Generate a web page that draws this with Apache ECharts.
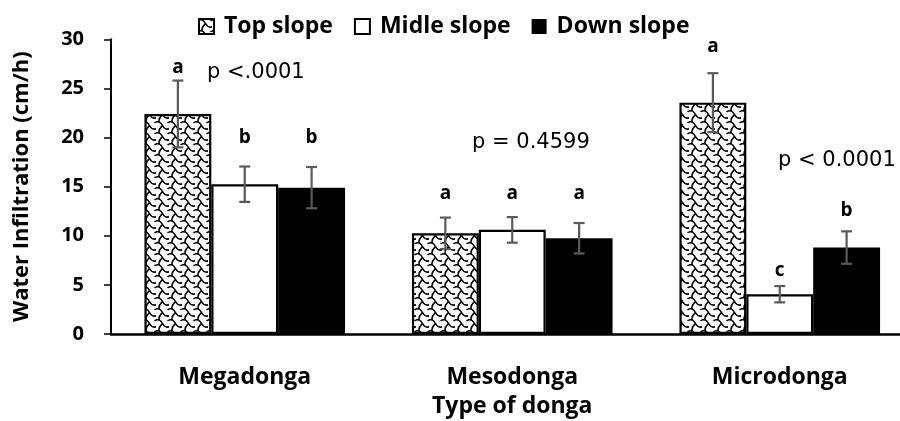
<!DOCTYPE html>
<html>
<head>
<meta charset="utf-8">
<script src="https://cdn.jsdelivr.net/npm/echarts@6/dist/echarts.min.js"></script>
<style>
html,body{margin:0;padding:0;background:#fff;}
#chart{width:900px;height:421px;}
</style>
</head>
<body>
<div id="chart"></div>
<script>
const categories = ['Megadonga', 'Mesodonga', 'Microdonga'];
const seriesNames = ['Top slope', 'Midle slope', 'Down slope'];
const topMean = [22.4, 10.25, 23.55];
const topErr = [3.4, 1.6, 3.0];
const midMean = [15.25, 10.6, 4.05];
const midErr = [1.8, 1.3, 0.83];
const downMean = [14.9, 9.75, 8.8];
const downErr = [2.1, 1.55, 1.65];
const topLetters = ['a', 'a', 'a'];
const topLetterY = [27.1, 14.3, 29.3];
const midLetters = ['b', 'a', 'c'];
const midLetterY = [20.0, 14.3, 6.5];
const downLetters = ['b', 'a', 'b'];
const downLetterY = [20.0, 14.3, 12.6];
const yMin = 0, yMax = 30, yInterval = 5;
const pValueTexts = ['p <.0001', 'p = 0.4599', 'p < 0.0001'];

const means = [topMean, midMean, downMean];
const errs = [topErr, midErr, downErr];
const letters = [topLetters, midLetters, downLetters];
const letterYs = [topLetterY, midLetterY, downLetterY];

function makePattern() {
  const c = document.createElement('canvas');
  c.width = 13; c.height = 11;
  const g = c.getContext('2d');
  g.fillStyle = '#fff';
  g.fillRect(0, 0, 13, 11);
  g.strokeStyle = '#000';
  g.lineWidth = 1.5;
  g.lineCap = 'round';
  g.beginPath();
  g.moveTo(-1, 1.5);
  g.bezierCurveTo(2.5, -0.5, 5, 1.5, 6.5, 4.5);
  g.bezierCurveTo(8, 7.5, 10.5, 9, 14, 7.5);
  g.moveTo(6.5, 4.5);
  g.bezierCurveTo(4.5, 6.5, 2.5, 8, 3, 11.5);
  g.moveTo(3, -0.5);
  g.lineTo(3.2, 0.3);
  g.moveTo(12, 1.5);
  g.bezierCurveTo(12.5, 1.3, 13, 1.2, 14, 1.5);
  g.stroke();
  return c;
}
const pattern = { image: makePattern(), repeat: 'repeat' };
const barColors = [pattern, '#ffffff', '#000000'];

const FONT = '"Open Sans", "Noto Sans", sans-serif';

const barSeries = seriesNames.map((name, si) => ({
  name: name,
  type: 'bar',
  data: means[si],
  barGap: '0%',
  barCategoryGap: '25%',
  itemStyle: {
    color: barColors[si],
    borderColor: '#000',
    borderWidth: si === 2 ? 0 : 2.2
  },
  emphasis: { disabled: true },
  z: 2
}));

const errSeries = seriesNames.map((name, si) => ({
  type: 'custom',
  name: name + ' err',
  coordinateSystem: 'cartesian2d',
  silent: true,
  z: 5,
  encode: { x: 0, y: 1 },
  data: categories.map((c, i) => [i, means[si][i], errs[si][i], letterYs[si][i]]),
  renderItem: function (params, api) {
    const i = api.value(0);
    const m = api.value(1);
    const e = api.value(2);
    const ly = api.value(3);
    const band = api.size([1, 0])[0];
    const bw = band * 0.75 / 3;
    const off = (si - 1) * bw;
    const pTop = api.coord([i, m + e]);
    const pBot = api.coord([i, m - e]);
    const pL = api.coord([i, ly]);
    const x = pTop[0] + off;
    const cap = 5.5;
    const st = { stroke: '#5a5a5a', lineWidth: 2.2 };
    return {
      type: 'group',
      children: [
        { type: 'line', shape: { x1: x, y1: pTop[1], x2: x, y2: pBot[1] }, style: st },
        { type: 'line', shape: { x1: x - cap, y1: pTop[1], x2: x + cap, y2: pTop[1] }, style: st },
        { type: 'line', shape: { x1: x - cap, y1: pBot[1], x2: x + cap, y2: pBot[1] }, style: st },
        { type: 'text', x: x, y: pL[1], style: {
            text: letters[si][params.dataIndex],
            fill: '#000',
            font: 'bold 19px ' + FONT,
            textAlign: 'center',
            textVerticalAlign: 'middle'
          } }
      ]
    };
  }
}));

const chart = echarts.init(document.getElementById('chart'), null, { renderer: 'canvas' });
chart.setOption({
  animation: false,
  backgroundColor: '#fff',
  legend: {
    data: seriesNames,
    left: 193,
    top: 10,
    itemWidth: 15,
    itemHeight: 15,
    itemGap: 21,
    icon: 'rect',
    selectedMode: false,
    textStyle: {
      fontFamily: FONT,
      fontWeight: 'bold',
      fontSize: 23,
      color: '#000',
      padding: [0, 0, 0, 5]
    }
  },
  grid: {
    left: 111,
    top: 39.3,
    width: 802.5,
    height: 294.7,
    containLabel: false,
    outerBoundsMode: 'none'
  },
  xAxis: {
    type: 'category',
    data: categories,
    name: 'Type of donga',
    nameLocation: 'middle',
    nameGap: 61,
    nameTextStyle: { fontFamily: FONT, fontWeight: 'bold', fontSize: 23, color: '#000' },
    axisLine: { lineStyle: { color: '#000', width: 2.5 } },
    axisTick: { show: false },
    axisLabel: { margin: 32, fontFamily: FONT, fontWeight: 'bold', fontSize: 23, color: '#000', interval: 0 },
    splitLine: { show: false }
  },
  yAxis: {
    type: 'value',
    min: yMin,
    max: yMax,
    interval: yInterval,
    name: 'Water Infiltration (cm/h)',
    nameLocation: 'middle',
    nameGap: 78,
    nameTextStyle: { fontFamily: FONT, fontWeight: 'bold', fontSize: 22, color: '#000' },
    axisLine: { show: true, lineStyle: { color: '#000', width: 2 } },
    axisTick: { show: true, length: 7, lineStyle: { color: '#000', width: 1.5 } },
    axisLabel: { margin: 27, fontFamily: FONT, fontWeight: 'bold', fontSize: 20, color: '#000' },
    splitLine: { show: false }
  },
  graphic: [
    { type: 'text', left: 207, top: 62.5, style: { text: pValueTexts[0], font: '21px "DejaVu Sans", sans-serif', fill: '#000' } },
    { type: 'text', left: 472, top: 132.5, style: { text: pValueTexts[1], font: '21px "DejaVu Sans", sans-serif', fill: '#000' } },
    { type: 'text', left: 778, top: 150.5, style: { text: pValueTexts[2], font: '21px "DejaVu Sans", sans-serif', fill: '#000' } }
  ],
  series: barSeries.concat(errSeries)
});
</script>
</body>
</html>
